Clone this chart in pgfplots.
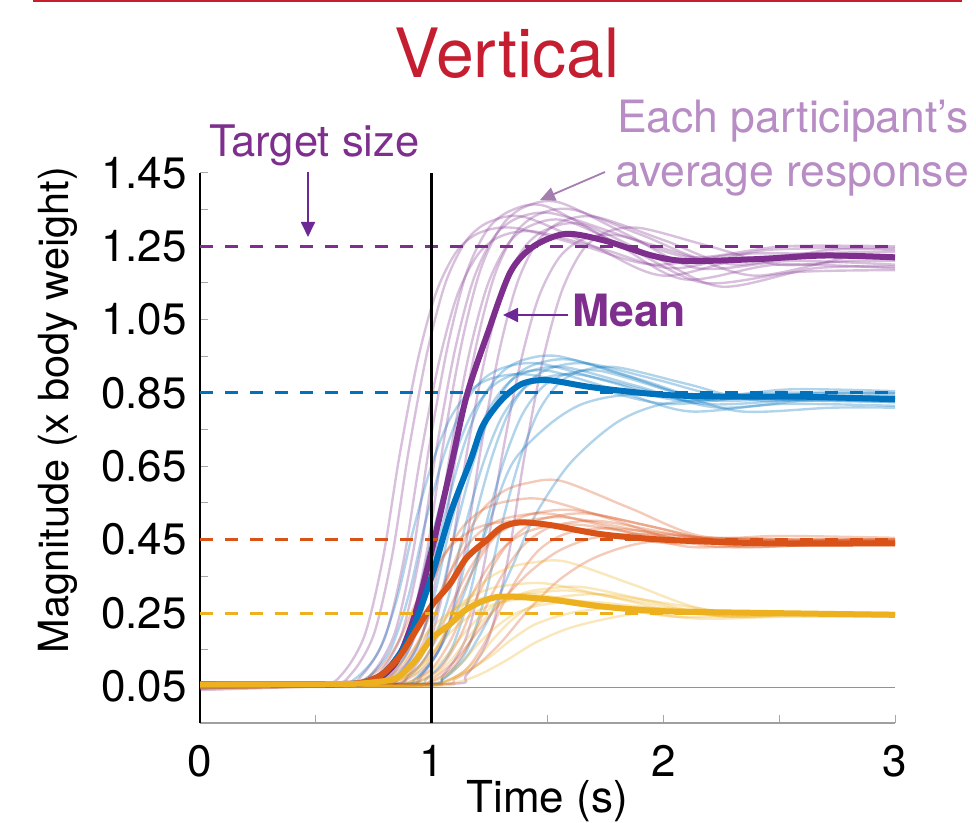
\documentclass[border=0pt]{standalone}
\usepackage{pgfplots}
\pgfplotsset{compat=1.18}
\usepackage{fontspec}
\setmainfont{TeX Gyre Heros}
\usetikzlibrary{arrows.meta}
\definecolor{mpurple}{RGB}{126,47,142}
\definecolor{mblue}{RGB}{0,114,189}
\definecolor{morange}{RGB}{217,83,25}
\definecolor{myellow}{RGB}{237,177,32}
\definecolor{titlered}{RGB}{196,30,48}
\definecolor{lightpurple}{RGB}{184,140,196}
\definecolor{arrowpurple}{RGB}{110,40,150}
\pgfplotsset{
  ind/.style={smooth, line width=2.4pt, opacity=0.3, no markers, line join=round},
  mn/.style={smooth, line width=6pt, no markers, line join=round},
  tgt/.style={line width=3pt, dash pattern=on 13pt off 12pt, no markers},
}
\begin{document}
\begin{tikzpicture}
\begin{axis}[
  at={(200pt,99pt)}, anchor=south west, scale only axis,
  width=695pt, height=550pt,
  xmin=0, xmax=3, ymin=-0.05, ymax=1.45,
  axis lines=left, axis line style={-},
  x axis line style={gray!75, line width=1.5pt},
  y axis line style={black, line width=1.5pt},
  xtick={0,1,2,3}, xticklabels={0,1,2,3},
  minor xtick={0.5,1.5,2.5},
  ytick={0.05,0.25,0.45,0.65,0.85,1.05,1.25,1.45},
  yticklabels={0.05,0.25,0.45,0.65,0.85,1.05,1.25,1.45},
  minor ytick={0.15,0.35,0.55,0.75,0.95,1.15,1.35},
  tick align=inside, major tick length=8pt, minor tick length=8pt,
  tick style={gray!70, line width=1pt},
  /pgf/number format/assume math mode=true,
  ticklabel style={font=\fontsize{44}{44}\selectfont, inner sep=0pt},
  yticklabel style={anchor=east, xshift=-13pt},
  xticklabel style={anchor=north, yshift=-22pt},
]
% ---- individual purple ----
\addplot[ind, mpurple] coordinates {(0,0.05)(0.51,0.056)(0.61,0.081)(0.71,0.188)(0.79,0.40)(0.86,0.675)(0.94,0.94)(1.02,1.125)(1.11,1.238)(1.21,1.288)(1.36,1.30)(1.66,1.25)(1.96,1.20)(2.36,1.23)(3,1.225)};
\addplot[ind, mpurple] coordinates {(0,0.045)(0.55,0.056)(0.65,0.082)(0.75,0.191)(0.83,0.408)(0.90,0.69)(0.98,0.959)(1.06,1.151)(1.15,1.266)(1.25,1.317)(1.40,1.33)(1.70,1.25)(2.00,1.17)(2.40,1.22)(3,1.215)};
\addplot[ind, mpurple] coordinates {(0,0.055)(0.60,0.056)(0.70,0.081)(0.80,0.186)(0.88,0.397)(0.95,0.67)(1.03,0.93)(1.11,1.116)(1.20,1.228)(1.30,1.278)(1.45,1.29)(1.75,1.24)(2.05,1.19)(2.45,1.24)(3,1.245)};
\addplot[ind, mpurple] coordinates {(0,0.06)(0.64,0.057)(0.74,0.083)(0.84,0.194)(0.92,0.417)(0.99,0.705)(1.07,0.98)(1.15,1.177)(1.24,1.295)(1.34,1.347)(1.49,1.36)(1.79,1.26)(2.09,1.16)(2.49,1.20)(3,1.19)};
\addplot[ind, mpurple] coordinates {(0,0.04)(0.67,0.056)(0.77,0.082)(0.87,0.192)(0.95,0.411)(1.02,0.695)(1.10,0.966)(1.18,1.159)(1.27,1.276)(1.37,1.327)(1.52,1.34)(1.82,1.28)(2.12,1.22)(2.52,1.25)(3,1.25)};
\addplot[ind, mpurple] coordinates {(0,0.05)(0.70,0.057)(0.80,0.083)(0.90,0.195)(0.98,0.42)(1.05,0.71)(1.13,0.987)(1.21,1.185)(1.30,1.304)(1.40,1.357)(1.55,1.37)(1.85,1.28)(2.15,1.19)(2.55,1.21)(3,1.20)};
\addplot[ind, mpurple] coordinates {(0,0.055)(0.73,0.056)(0.83,0.082)(0.93,0.19)(1.01,0.406)(1.08,0.685)(1.16,0.952)(1.24,1.142)(1.33,1.257)(1.43,1.307)(1.58,1.32)(1.88,1.235)(2.18,1.15)(2.58,1.18)(3,1.185)};
\addplot[ind, mpurple] coordinates {(0,0.045)(0.76,0.057)(0.86,0.083)(0.96,0.193)(1.04,0.414)(1.11,0.70)(1.19,0.973)(1.27,1.168)(1.36,1.285)(1.46,1.337)(1.61,1.35)(1.91,1.28)(2.21,1.21)(2.61,1.23)(3,1.235)};
\addplot[ind, mpurple] coordinates {(0,0.06)(0.80,0.056)(0.90,0.082)(1.00,0.189)(1.08,0.403)(1.15,0.68)(1.23,0.945)(1.31,1.134)(1.40,1.247)(1.50,1.297)(1.65,1.31)(1.95,1.225)(2.25,1.14)(2.65,1.19)(3,1.195)};
\addplot[ind, mpurple] coordinates {(0,0.05)(0.86,0.056)(0.96,0.082)(1.06,0.191)(1.14,0.408)(1.21,0.69)(1.29,0.959)(1.37,1.151)(1.46,1.266)(1.56,1.317)(1.71,1.33)(2.01,1.265)(2.31,1.20)(2.71,1.24)(3,1.24)};
\addplot[ind, mpurple] coordinates {(0,0.05)(0.95,0.056)(1.05,0.081)(1.15,0.185)(1.23,0.394)(1.30,0.665)(1.38,0.923)(1.46,1.108)(1.55,1.219)(1.65,1.268)(1.80,1.28)(2.10,1.225)(2.40,1.17)(2.80,1.22)(3,1.22)};
\addplot[ind, mpurple] coordinates {(0,0.055)(1.05,0.056)(1.15,0.081)(1.25,0.188)(1.33,0.40)(1.40,0.675)(1.48,0.94)(1.56,1.125)(1.65,1.238)(1.75,1.288)(1.90,1.30)(2.20,1.25)(2.50,1.20)(2.80,1.21)(3,1.21)};
% ---- individual blue ----
\addplot[ind, mblue] coordinates {(0,0.05)(0.57,0.054)(0.67,0.071)(0.77,0.144)(0.85,0.288)(0.92,0.475)(1.00,0.654)(1.08,0.781)(1.17,0.858)(1.27,0.892)(1.42,0.90)(1.72,0.86)(2.02,0.82)(2.42,0.84)(3,0.835)};
\addplot[ind, mblue] coordinates {(0,0.055)(0.62,0.054)(0.72,0.072)(0.82,0.147)(0.90,0.296)(0.97,0.49)(1.05,0.675)(1.13,0.807)(1.22,0.886)(1.32,0.921)(1.47,0.93)(1.77,0.88)(2.07,0.83)(2.47,0.85)(3,0.85)};
\addplot[ind, mblue] coordinates {(0,0.06)(0.66,0.054)(0.76,0.072)(0.86,0.145)(0.94,0.291)(1.01,0.48)(1.09,0.661)(1.17,0.79)(1.26,0.867)(1.36,0.901)(1.51,0.91)(1.81,0.855)(2.11,0.80)(2.51,0.82)(3,0.815)};
\addplot[ind, mblue] coordinates {(0,0.045)(0.70,0.055)(0.80,0.073)(0.90,0.149)(0.98,0.302)(1.05,0.50)(1.13,0.689)(1.21,0.824)(1.30,0.905)(1.40,0.941)(1.55,0.95)(1.85,0.895)(2.15,0.84)(2.55,0.86)(3,0.855)};
\addplot[ind, mblue] coordinates {(0,0.05)(0.73,0.054)(0.83,0.072)(0.93,0.146)(1.01,0.294)(1.08,0.485)(1.16,0.668)(1.24,0.798)(1.33,0.877)(1.43,0.911)(1.58,0.92)(1.88,0.87)(2.18,0.82)(2.58,0.83)(3,0.83)};
\addplot[ind, mblue] coordinates {(0,0.055)(0.76,0.054)(0.86,0.072)(0.96,0.148)(1.04,0.299)(1.11,0.495)(1.19,0.682)(1.27,0.815)(1.36,0.896)(1.46,0.931)(1.61,0.94)(1.91,0.885)(2.21,0.83)(2.61,0.84)(3,0.845)};
\addplot[ind, mblue] coordinates {(0,0.05)(0.79,0.054)(0.89,0.071)(0.99,0.144)(1.07,0.288)(1.14,0.475)(1.22,0.654)(1.30,0.781)(1.39,0.858)(1.49,0.892)(1.64,0.90)(1.94,0.855)(2.24,0.81)(2.64,0.83)(3,0.825)};
\addplot[ind, mblue] coordinates {(0,0.06)(0.83,0.054)(0.93,0.072)(1.03,0.147)(1.11,0.296)(1.18,0.49)(1.26,0.675)(1.34,0.807)(1.43,0.886)(1.53,0.921)(1.68,0.93)(1.98,0.885)(2.28,0.84)(2.68,0.85)(3,0.85)};
\addplot[ind, mblue] coordinates {(0,0.05)(0.88,0.054)(0.98,0.072)(1.08,0.145)(1.16,0.291)(1.23,0.48)(1.31,0.661)(1.39,0.79)(1.48,0.867)(1.58,0.901)(1.73,0.91)(2.03,0.855)(2.33,0.80)(2.73,0.81)(3,0.81)};
\addplot[ind, mblue] coordinates {(0,0.055)(0.95,0.054)(1.05,0.072)(1.15,0.146)(1.23,0.294)(1.30,0.485)(1.38,0.668)(1.46,0.798)(1.55,0.877)(1.65,0.911)(1.80,0.92)(2.10,0.875)(2.40,0.83)(2.80,0.84)(3,0.84)};
\addplot[ind, mblue] coordinates {(0,0.05)(0.85,0.055)(0.95,0.08)(1.05,0.17)(1.15,0.32)(1.25,0.50)(1.35,0.66)(1.5,0.76)(1.65,0.82)(1.85,0.845)(2.2,0.84)(2.6,0.83)(3,0.825)};
\addplot[ind, mblue] coordinates {(0,0.05)(0.95,0.055)(1.05,0.07)(1.15,0.13)(1.25,0.24)(1.35,0.38)(1.45,0.52)(1.6,0.66)(1.8,0.77)(2.0,0.82)(2.3,0.835)(2.7,0.84)(3,0.835)};
% ---- individual orange ----
\addplot[ind, morange] coordinates {(0,0.05)(0.58,0.052)(0.68,0.061)(0.78,0.10)(0.86,0.176)(0.93,0.275)(1.01,0.37)(1.09,0.437)(1.18,0.478)(1.28,0.496)(1.43,0.50)(1.73,0.47)(2.03,0.44)(2.43,0.45)(3,0.45)};
\addplot[ind, morange] coordinates {(0,0.055)(0.63,0.053)(0.73,0.063)(0.83,0.106)(0.91,0.193)(0.98,0.305)(1.06,0.412)(1.14,0.489)(1.23,0.535)(1.33,0.555)(1.48,0.56)(1.78,0.505)(2.08,0.45)(2.48,0.46)(3,0.455)};
\addplot[ind, morange] coordinates {(0,0.045)(0.67,0.052)(0.77,0.062)(0.87,0.102)(0.95,0.182)(1.02,0.285)(1.10,0.384)(1.18,0.454)(1.27,0.497)(1.37,0.515)(1.52,0.52)(1.82,0.475)(2.12,0.43)(2.52,0.44)(3,0.44)};
\addplot[ind, morange] coordinates {(0,0.05)(0.71,0.053)(0.81,0.064)(0.91,0.112)(0.99,0.207)(1.06,0.33)(1.14,0.448)(1.22,0.532)(1.31,0.582)(1.41,0.604)(1.56,0.61)(1.86,0.535)(2.16,0.46)(2.56,0.45)(3,0.45)};
\addplot[ind, morange] coordinates {(0,0.06)(0.74,0.052)(0.84,0.062)(0.94,0.101)(1.02,0.179)(1.09,0.28)(1.17,0.377)(1.25,0.446)(1.34,0.487)(1.44,0.505)(1.59,0.51)(1.89,0.475)(2.19,0.44)(2.59,0.445)(3,0.445)};
\addplot[ind, morange] coordinates {(0,0.05)(0.77,0.052)(0.87,0.062)(0.97,0.103)(1.05,0.184)(1.12,0.29)(1.20,0.391)(1.28,0.463)(1.37,0.506)(1.47,0.525)(1.62,0.53)(1.92,0.49)(2.22,0.45)(2.62,0.44)(3,0.44)};
\addplot[ind, morange] coordinates {(0,0.055)(0.80,0.052)(0.90,0.061)(1.00,0.098)(1.08,0.173)(1.15,0.27)(1.23,0.362)(1.31,0.428)(1.40,0.468)(1.50,0.486)(1.65,0.49)(1.95,0.46)(2.25,0.43)(2.65,0.435)(3,0.435)};
\addplot[ind, morange] coordinates {(0,0.05)(0.84,0.052)(0.94,0.062)(1.04,0.102)(1.12,0.182)(1.19,0.285)(1.27,0.384)(1.35,0.454)(1.44,0.497)(1.54,0.515)(1.69,0.52)(1.99,0.48)(2.29,0.44)(2.69,0.45)(3,0.45)};
\addplot[ind, morange] coordinates {(0,0.045)(0.89,0.052)(0.99,0.061)(1.09,0.10)(1.17,0.176)(1.24,0.275)(1.32,0.37)(1.40,0.437)(1.49,0.478)(1.59,0.496)(1.74,0.50)(2.04,0.465)(2.34,0.43)(2.74,0.44)(3,0.44)};
\addplot[ind, morange] coordinates {(0,0.05)(0.95,0.052)(1.05,0.061)(1.15,0.097)(1.23,0.17)(1.30,0.265)(1.38,0.355)(1.46,0.42)(1.55,0.459)(1.65,0.476)(1.80,0.48)(2.10,0.46)(2.40,0.44)(2.80,0.45)(3,0.45)};
\addplot[ind, morange] coordinates {(0,0.05)(0.9,0.055)(1.0,0.07)(1.1,0.12)(1.2,0.2)(1.3,0.28)(1.42,0.36)(1.55,0.42)(1.7,0.455)(1.9,0.465)(2.2,0.455)(2.6,0.445)(3,0.44)};
\addplot[ind, morange] coordinates {(0,0.05)(1.0,0.055)(1.1,0.07)(1.2,0.11)(1.3,0.17)(1.42,0.26)(1.55,0.34)(1.7,0.40)(1.9,0.44)(2.2,0.455)(2.6,0.45)(3,0.445)};
% ---- individual yellow ----
\addplot[ind, myellow] coordinates {(0,0.05)(0.60,0.051)(0.70,0.056)(0.80,0.078)(0.88,0.12)(0.95,0.175)(1.03,0.228)(1.11,0.265)(1.20,0.288)(1.30,0.298)(1.45,0.30)(1.75,0.27)(2.05,0.24)(2.45,0.245)(3,0.245)};
\addplot[ind, myellow] coordinates {(0,0.055)(0.65,0.051)(0.75,0.057)(0.85,0.081)(0.93,0.128)(1.00,0.19)(1.08,0.249)(1.16,0.291)(1.25,0.316)(1.35,0.327)(1.50,0.33)(1.80,0.29)(2.10,0.25)(2.50,0.25)(3,0.25)};
\addplot[ind, myellow] coordinates {(0,0.045)(0.69,0.051)(0.79,0.056)(0.89,0.076)(0.97,0.117)(1.04,0.17)(1.12,0.22)(1.20,0.256)(1.29,0.278)(1.39,0.288)(1.54,0.29)(1.84,0.262)(2.14,0.235)(2.54,0.24)(3,0.24)};
\addplot[ind, myellow] coordinates {(0,0.05)(0.73,0.052)(0.83,0.059)(0.93,0.087)(1.01,0.145)(1.08,0.22)(1.16,0.291)(1.24,0.342)(1.33,0.373)(1.43,0.387)(1.58,0.39)(1.88,0.325)(2.18,0.26)(2.58,0.25)(3,0.25)};
\addplot[ind, myellow] coordinates {(0,0.06)(0.77,0.051)(0.87,0.057)(0.97,0.079)(1.05,0.123)(1.12,0.18)(1.20,0.235)(1.28,0.274)(1.37,0.297)(1.47,0.307)(1.62,0.31)(1.92,0.278)(2.22,0.245)(2.62,0.245)(3,0.245)};
\addplot[ind, myellow] coordinates {(0,0.05)(0.81,0.051)(0.91,0.057)(1.01,0.08)(1.09,0.126)(1.16,0.185)(1.24,0.242)(1.32,0.282)(1.41,0.307)(1.51,0.317)(1.66,0.32)(1.96,0.28)(2.26,0.24)(2.66,0.25)(3,0.25)};
\addplot[ind, myellow] coordinates {(0,0.055)(0.85,0.051)(0.95,0.056)(1.05,0.075)(1.13,0.114)(1.20,0.165)(1.28,0.213)(1.36,0.248)(1.45,0.269)(1.55,0.278)(1.70,0.28)(2.00,0.26)(2.30,0.24)(2.70,0.245)(3,0.245)};
\addplot[ind, myellow] coordinates {(0,0.05)(0.91,0.051)(1.01,0.056)(1.11,0.078)(1.19,0.12)(1.26,0.175)(1.34,0.228)(1.42,0.265)(1.51,0.288)(1.61,0.298)(1.76,0.30)(2.06,0.272)(2.36,0.245)(2.76,0.25)(3,0.25)};
\addplot[ind, myellow] coordinates {(0,0.05)(0.95,0.052)(1.05,0.06)(1.15,0.09)(1.25,0.13)(1.35,0.18)(1.45,0.22)(1.6,0.25)(1.8,0.265)(2.1,0.26)(2.5,0.25)(3,0.245)};
\addplot[ind, myellow] coordinates {(0,0.05)(1.0,0.052)(1.1,0.06)(1.2,0.08)(1.32,0.12)(1.45,0.17)(1.6,0.21)(1.8,0.24)(2.0,0.255)(2.4,0.25)(3,0.248)};
% ---- baseline ----
\addplot[gray!85, line width=1.5pt, no markers] coordinates {(0,0.047)(3,0.047)};
% ---- means ----
\addplot[mn, mpurple] coordinates {(0,0.055)(0.3,0.055)(0.6,0.056)(0.75,0.065)(0.85,0.12)(0.93,0.25)(1.0,0.42)(1.08,0.64)(1.15,0.84)(1.24,1.01)(1.34,1.18)(1.44,1.25)(1.58,1.284)(1.75,1.265)(1.95,1.225)(2.1,1.21)(2.4,1.215)(2.7,1.225)(3,1.22)};
\addplot[mn, mblue] coordinates {(0,0.055)(0.3,0.055)(0.6,0.056)(0.7,0.06)(0.8,0.09)(0.9,0.18)(1.0,0.35)(1.08,0.52)(1.17,0.67)(1.22,0.76)(1.3,0.83)(1.39,0.875)(1.5,0.885)(1.7,0.865)(2.0,0.845)(2.3,0.84)(2.6,0.84)(3,0.833)};
\addplot[mn, morange] coordinates {(0,0.055)(0.3,0.055)(0.6,0.056)(0.7,0.06)(0.78,0.08)(0.86,0.13)(0.93,0.2)(1.0,0.27)(1.08,0.33)(1.15,0.40)(1.24,0.45)(1.3,0.483)(1.38,0.497)(1.51,0.49)(1.73,0.465)(2.0,0.45)(2.45,0.44)(3,0.44)};
\addplot[mn, myellow] coordinates {(0,0.055)(0.3,0.055)(0.6,0.056)(0.7,0.058)(0.8,0.065)(0.86,0.077)(0.93,0.12)(1.0,0.18)(1.08,0.22)(1.15,0.26)(1.24,0.287)(1.32,0.295)(1.51,0.287)(1.73,0.268)(2.0,0.255)(2.45,0.25)(3,0.245)};
% ---- target lines ----
\addplot[tgt, mpurple] coordinates {(0,1.25)(3,1.25)};
\addplot[tgt, mblue] coordinates {(0,0.85)(3,0.85)};
\addplot[tgt, morange] coordinates {(0,0.45)(3,0.45)};
\addplot[tgt, myellow] coordinates {(0,0.25)(3,0.25)};
% ---- stimulus line ----
\addplot[black, line width=2.6pt, no markers] coordinates {(1,-0.05)(1,1.45)};
\end{axis}
% ---- annotations ----
\draw[titlered, line width=2pt] (33pt,821pt) -- (962pt,821pt);
\node[anchor=base, inner sep=0, text=titlered, font=\fontsize{68}{68}\selectfont] at (507pt,744pt) {Vertical};
\node[anchor=base west, inner sep=0, text=mpurple, font=\fontsize{43.5}{43.5}\selectfont] at (209pt,665pt) {Target size};
\draw[arrowpurple, line width=1.8pt, -{Triangle[length=15pt,width=14pt]}] (308pt,650pt) -- (308pt,585pt);
\node[anchor=base west, inner sep=0, text=lightpurple, font=\fontsize{44.5}{44.5}\selectfont] at (617pt,689pt) {Each participant's};
\node[anchor=base west, inner sep=0, text=lightpurple, font=\fontsize{44.5}{44.5}\selectfont] at (615pt,635pt) {average response};
\draw[lightpurple!90!black, line width=1.8pt, -{Triangle[length=15pt,width=14pt]}] (605pt,650pt) -- (540pt,622pt);
\node[anchor=base west, inner sep=0, text=mpurple, font=\bfseries\fontsize{44.5}{44.5}\selectfont] at (572pt,495pt) {Mean};
\draw[arrowpurple, line width=1.8pt, -{Triangle[length=15pt,width=14pt]}] (568pt,507pt) -- (503pt,507pt);
\node[rotate=90, anchor=base, inner sep=0, font=\fontsize{41.5}{41.5}\selectfont] at (68pt,412pt) {Magnitude (x body weight)};
\node[anchor=base, inner sep=0, font=\fontsize{44}{44}\selectfont] at (547pt,10pt) {Time (s)};
\pgfresetboundingbox
\path[use as bounding box] (0,0) rectangle (976pt,822pt);
\end{tikzpicture}
\end{document}
